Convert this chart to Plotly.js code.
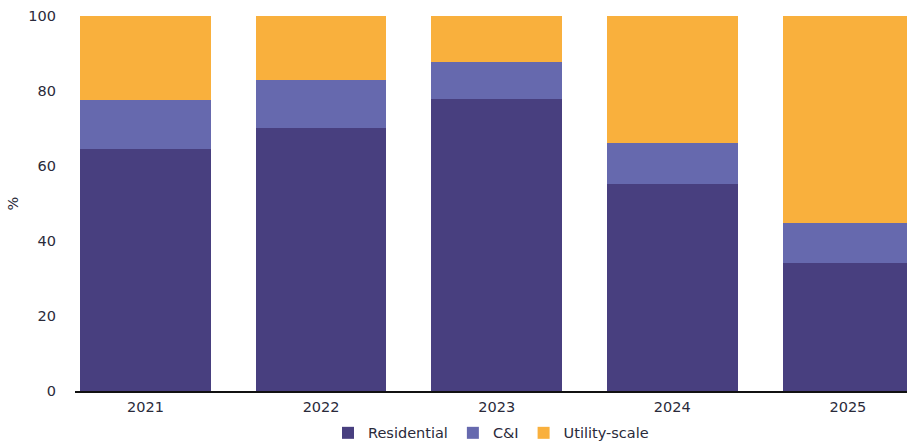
<!DOCTYPE html>
<html>
<head>
<meta charset="utf-8">
<script src="https://cdn.plot.ly/plotly-3.0.1.min.js"></script>
<style>html,body{margin:0;padding:0;background:#fff;}#chart{width:907px;height:444px;}</style>
</head>
<body>
<div id="chart"></div>
<script>
var years = ["2021", "2022", "2023", "2024", "2025"];
var residential = [64.5, 70.1, 77.8, 55.1, 34.1];
var cni = [13.1, 12.8, 9.9, 11.1, 10.8];
var utility = [22.4, 17.1, 12.3, 33.8, 55.1];

var colors = {res: "#483f7f", cni: "#6669ae", util: "#f9b03d"};

function bar(name, y, color) {
  return {
    type: "bar", name: name, x: years, y: y,
    marker: {color: color, line: {width: 0}},
    hoverinfo: "x+y+name"
  };
}

var data = [
  bar("Residential", residential, colors.res),
  bar("C&amp;I", cni, colors.cni),
  bar("Utility-scale", utility, colors.util)
];

var font = {family: "DejaVu Sans, sans-serif", size: 14.5, color: "#2a2a3a"};

var layout = {
  width: 907, height: 444,
  margin: {l: 75, r: 0, t: 16, b: 53, pad: 0, autoexpand: false},
  barmode: "stack",
  bargap: 0.257,
  paper_bgcolor: "#fff", plot_bgcolor: "#fff",
  font: font,
  xaxis: {
    type: "category",
    range: [-0.4015, 4.3366],
    showline: true, linecolor: "#111", linewidth: 1.5,
    ticks: "", ticklabelstandoff: 2,
    showgrid: false, zeroline: false, automargin: false,
    tickfont: font
  },
  yaxis: {
    range: [0, 100],
    tickvals: [0, 20, 40, 60, 80, 100],
    ticks: "", showgrid: false, zeroline: false, showline: false,
    ticklabelstandoff: 18, automargin: false,
    tickfont: font,
    title: {text: "%", font: font, standoff: 6}
  },
  showlegend: true,
  legend: {
    orientation: "h", x: 0.5, xanchor: "center",
    yref: "container", y: 0.025, yanchor: "middle",
    font: font, itemwidth: 30, traceorder: "normal",
    itemclick: false, itemdoubleclick: false
  }
};

Plotly.newPlot("chart", data, layout, {displayModeBar: false, staticPlot: true});
</script>
</body>
</html>
